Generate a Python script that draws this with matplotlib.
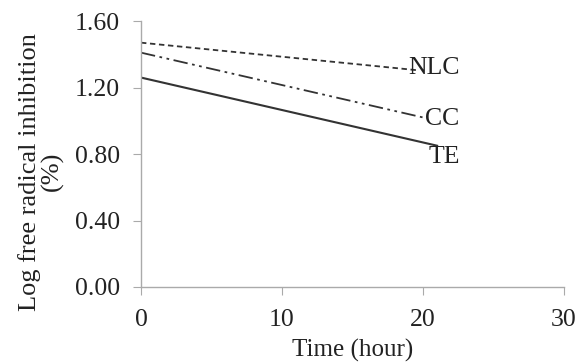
import matplotlib
matplotlib.use("Agg")
import matplotlib.pyplot as plt

plt.rcParams['font.family'] = ['Liberation Serif', 'DejaVu Serif']

nlc_time = [0, 19.5]
nlc = [1.47, 1.305]
cc_time = [0, 20]
cc = [1.41, 1.02]
te_time = [0, 21]
te = [1.26, 0.85]
labels = ["NLC", "CC", "TE"]
label_y = [1.32, 1.01, 0.78]
xticks = [0, 10, 20, 30]
yticks = [0.0, 0.4, 0.8, 1.2, 1.6]

fig = plt.figure(figsize=(5.86, 3.63), dpi=100)
ax = fig.add_axes([0.2406, 0.2094, 0.7219, 0.7326])

ax.plot(nlc_time, nlc, color='#333333', lw=1.3, linestyle=(0, (3, 2)))
ax.plot(cc_time, cc, color='#333333', lw=1.3, linestyle=(0, (8, 2.5, 1.5, 2.5, 1.5, 2.5)))
ax.plot(te_time, te, color='#333333', lw=1.5, linestyle='-')

for lab, yv in zip(labels, label_y):
    ax.text(22.6, yv, lab, ha='right', va='center', fontsize=18.5, color='#222222')

ax.set_xlim(0, 30)
ax.set_ylim(0, 1.6)
ax.set_xticks(xticks)
ax.set_yticks(yticks)
ax.set_xticklabels([str(v) for v in xticks])
ax.set_yticklabels([f"{v:.2f}" for v in yticks])
for s in ['top', 'right']:
    ax.spines[s].set_visible(False)
for s in ['left', 'bottom']:
    ax.spines[s].set_color('#aaaaaa')
    ax.spines[s].set_linewidth(1.0)
ax.tick_params(axis='both', direction='out', length=5.5, color='#aaaaaa',
               labelsize=18.5, labelcolor='#222222')
ax.tick_params(axis='y', pad=9.5)
ax.tick_params(axis='x', pad=10)
ax.set_xlabel("Time (hour)", fontsize=18, color='#222222')
ax.set_ylabel("Log free radical inhibition\n(%)", fontsize=19, color='#222222',
              linespacing=1.0)
ax.xaxis.set_label_coords(0.501, -0.238)
ax.xaxis.label.set_va('center')
ax.yaxis.set_label_coords(-0.236, 0.434)
ax.yaxis.label.set_va('center')

fig.savefig("out.png", dpi=100)
